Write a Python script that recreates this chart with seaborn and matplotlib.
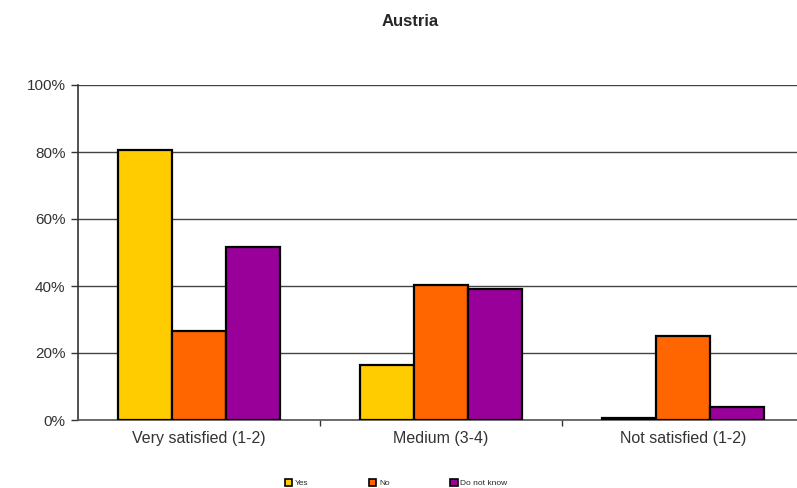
import matplotlib
matplotlib.use("Agg")
import matplotlib.pyplot as plt
import seaborn as sns
import pandas as pd
from matplotlib.patches import Patch

categories = ["Very satisfied (1-2)", "Medium (3-4)", "Not satisfied (1-2)"]
answers = ["Yes", "No", "Do not know"]
yes_vals = [80.7, 16.4, 0.7]
no_vals = [26.5, 40.2, 25.1]
dnk_vals = [51.6, 39.1, 3.8]
colors = ["#FFCC00", "#FF6600", "#990099"]

rows = []
for i, c in enumerate(categories):
    rows.append((c, "Yes", yes_vals[i]))
    rows.append((c, "No", no_vals[i]))
    rows.append((c, "Do not know", dnk_vals[i]))
df = pd.DataFrame(rows, columns=["category", "answer", "value"])

sns.set_style("white")
plt.rcParams["font.family"] = ["Liberation Sans", "DejaVu Sans"]

fig = plt.figure(figsize=(7.97, 4.88), dpi=100)
ax = fig.add_axes([78 / 797, 68 / 488, 726 / 797, 335 / 488])

sns.barplot(data=df, x="category", y="value", hue="answer", order=categories,
            hue_order=answers, palette=colors, saturation=1, width=0.67, edgecolor="black",
            linewidth=1.6, ax=ax, legend=False, zorder=3)

ax.set_ylim(0, 100)
ax.set_xlim(-0.5, 2.5)
ax.set_yticks([0, 20, 40, 60, 80, 100])
ax.set_yticklabels([f"{v}%" for v in [0, 20, 40, 60, 80, 100]], color="#333333", fontsize=11)
ax.set_xticks([0, 1, 2])
ax.set_xticklabels(categories, color="#333333", fontsize=11.5)
ax.set_xticks([0.5, 1.5], minor=True)
ax.tick_params(axis="x", which="major", length=0, pad=8)
ax.tick_params(axis="x", which="minor", length=4, width=1, color="#333333", direction="out", bottom=True)
ax.tick_params(axis="y", length=5, width=1, color="#333333", direction="out", left=True, pad=4)
ax.set_xlabel("")
ax.set_ylabel("")

ax.yaxis.grid(True, color="#444444", linewidth=1, zorder=0)
ax.set_axisbelow(True)
for s in ["top", "right"]:
    ax.spines[s].set_visible(False)
ax.spines["left"].set_color("#333333")
ax.spines["left"].set_linewidth(1.2)
ax.spines["bottom"].set_color("#555555")
ax.spines["bottom"].set_linewidth(1.2)

fig.text(0.515, 0.955, "Austria", ha="center", va="center", fontsize=12, fontweight="bold")

handles = [Patch(facecolor=c, edgecolor="black", linewidth=1.2, label=a) for a, c in zip(answers, colors)]
fig.legend(handles=handles, loc="center", bbox_to_anchor=(0.497, 0.01), ncol=3, frameon=False,
           fontsize=6, handlelength=0.9, handleheight=0.9, handletextpad=0.3, columnspacing=7.3)

fig.savefig("out.png", dpi=100)
